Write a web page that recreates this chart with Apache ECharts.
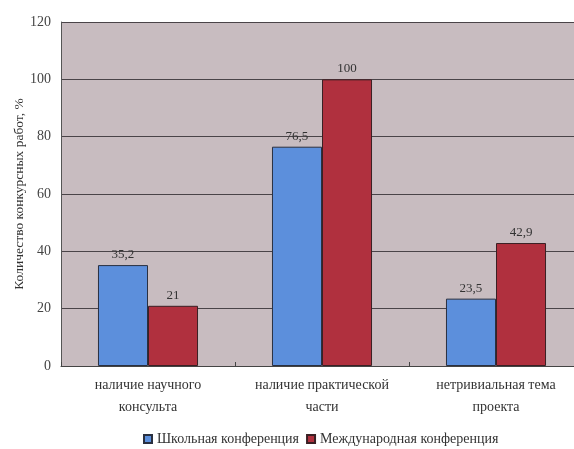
<!DOCTYPE html>
<html><head><meta charset="utf-8">
<script src="https://cdn.jsdelivr.net/npm/echarts@6/dist/echarts.min.js"></script>
<style>html,body{margin:0;padding:0;background:#fff}#c{width:574px;height:449px}</style>
</head><body><div id="c"></div>
<script>
const categories = ['наличие научного\nконсульта', 'наличие практической\nчасти', 'нетривиальная тема\nпроекта'];
const schoolValues = [35.2, 76.5, 23.5];
const intlValues = [21, 100, 42.9];
const seriesNames = ['Школьная конференция', 'Международная конференция'];
const yTitle = 'Количество конкурсных работ, %';

const fmt = p => String(p.value).replace('.', ',');
const font = '"Liberation Serif", "DejaVu Serif", serif';
const chart = echarts.init(document.getElementById('c'));
chart.setOption({
  animation: false,
  backgroundColor: '#fff',
  textStyle: { fontFamily: font },
  grid: { left: 61, top: 22, right: -9, height: 344, backgroundColor: '#c8bcc0', show: true, borderWidth: 0, outerBoundsMode: 'none', containLabel: false },
  legend: {
    top: 427, left: 138, itemWidth: 8, itemHeight: 8, itemGap: 7,
    icon: 'rect',
    textStyle: { fontFamily: font, fontSize: 14, color: '#333' },
    data: seriesNames
  },
  xAxis: {
    type: 'category', data: categories,
    axisLine: { show: true, lineStyle: { color: '#444', width: 1 } },
    axisTick: { show: true, inside: true, length: 4, interval: 0, lineStyle: { color: '#444' } },
    axisLabel: { interval: 0, hideOverlap: false, fontFamily: font, fontSize: 14, color: '#333', lineHeight: 22, margin: 8 }
  },
  yAxis: {
    type: 'value', min: 0, max: 120, interval: 20,
    name: yTitle, nameLocation: 'middle', nameGap: 35, nameRotate: 90, nameMoveOverlap: false,
    nameTextStyle: { fontFamily: font, fontSize: 13.5, color: '#333' },
    axisLine: { show: true, lineStyle: { color: '#555', width: 1 } },
    axisTick: { show: false },
    axisLabel: { fontFamily: font, fontSize: 14, color: '#444', margin: 10 },
    splitLine: { show: true, lineStyle: { color: '#4a4448', width: 1 } }
  },
  series: [
    {
      name: seriesNames[0], type: 'bar', data: schoolValues,
      barGap: '0%', barCategoryGap: '42.5%',
      itemStyle: { color: '#5c8fdc', borderColor: '#2a3040', borderWidth: 1 },
      label: { show: true, position: 'top', formatter: fmt, fontFamily: font, fontSize: 13, color: '#333', distance: 4 }
    },
    {
      name: seriesNames[1], type: 'bar', data: intlValues,
      itemStyle: { color: '#b0303e', borderColor: '#3a2024', borderWidth: 1 },
      label: { show: true, position: 'top', formatter: fmt, fontFamily: font, fontSize: 13, color: '#333', distance: 4 }
    }
  ]
});
</script></body></html>
